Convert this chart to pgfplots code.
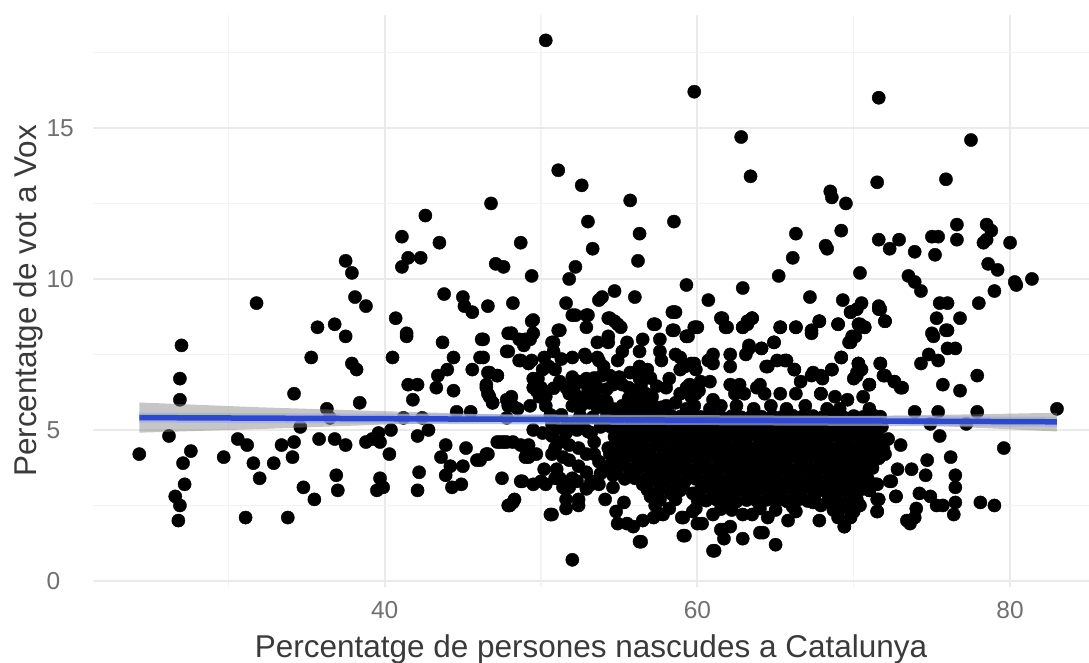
\documentclass[border=0pt]{standalone}
\usepackage{pgfplots}
\pgfplotsset{compat=1.18}
\usepackage{fontspec}
\setmainfont{Liberation Sans}
\definecolor{gmaj}{HTML}{EAEAEA}
\definecolor{gmin}{HTML}{F3F3F3}
\definecolor{ticktxt}{HTML}{707070}
\definecolor{labtxt}{HTML}{3A3A3A}
\definecolor{smooth}{HTML}{2F49C8}
\begin{document}
\begin{tikzpicture}[x=1pt,y=1pt]
\path[use as bounding box] (0,0) rectangle (1089,662);
\begin{axis}[
  at={(93pt,75pt)},anchor=south west,
  scale only axis,width=996pt,height=572pt,
  xmin=21.34,xmax=85.05,ymin=-0.2,ymax=18.74,
  axis line style={draw=none},
  major tick length=0pt,minor tick length=0pt,
  xtick={40,60,80},ytick={0,5,10,15},
  minor xtick={30,50,70},minor ytick={2.5,7.5,12.5,17.5},
  grid=both,
  major grid style={color=gmaj,line width=1.8pt},
  minor grid style={color=gmin,line width=1.3pt},
  /pgf/number format/assume math mode=true,
  tick label style={font=\fontsize{24.5}{26}\selectfont,text=ticktxt},
  xticklabel style={yshift=-11pt},
  yticklabel style={anchor=west,xshift=-50pt},
  xlabel={Percentatge de persones nascudes a Catalunya},
  ylabel={Percentatge de vot a Vox},
  label style={font=\fontsize{31.5}{33}\selectfont,text=labtxt},
  xlabel style={at={(axis description cs:0.5,0)},anchor=north,yshift=-44pt},
  ylabel style={at={(axis description cs:0,0.5)},anchor=south,yshift=46pt},
  clip mode=individual,
]
\addplot[only marks,mark=*,mark size=6.6pt,mark options={fill=black,draw=none},color=black] coordinates {
(31.8,9.2)(37.5,10.6)(37.9,10.2)(38.1,9.4)(38.8,9.1)(35.7,8.4)(36.8,8.5)(41.1,11.4)(41.5,10.7)(41.1,10.4)(42.3,10.7)(42.6,12.1)(43.5,11.2)(40.7,8.7)(41.4,8.2)(43.8,9.5)(45,9.4)(45.1,9.1)(45.6,8.9)(46.6,9.1)(46.8,12.5)(48.2,9.2)(48.7,11.2)(47.1,10.5)(47.6,10.4)(49.4,10.1)(49.4,8.6)(48.1,8.2)
(50.3,17.9)(59.8,16.2)(71.6,16)(62.8,14.7)(77.5,14.6)(51.1,13.6)(63.4,13.4)(52.6,13.1)(71.5,13.2)(75.9,13.3)(55.7,12.6)(68.5,12.9)(68.6,12.7)(69.5,12.5)(53,11.9)(58.5,11.9)(56.3,11.5)(66.3,11.5)(69.2,11.6)(53.3,11)(56.2,10.6)(68.2,11.1)(68.3,11)(71.6,11.3)(72.9,11.3)(72.3,11)(73.9,10.9)(75,11.4)(75.4,11.4)(76.6,11.8)(76.6,11.3)(75.2,10.8)(78.5,11.8)(78.8,11.6)(78.5,11.3)(78.3,11.2)(80,11.2)(52.2,10.4)(51.8,10)(66.1,10.7)(65.2,10.1)(70.4,10.2)(78.6,10.5)(79.2,10.3)(80.3,9.9)(80.4,9.8)(81.4,10)(73.5,10.1)(73.9,9.9)(74.3,9.6)(59.3,9.8)(62.9,9.7)(54.7,9.6)(53.9,9.4)(53.7,9.3)(56,9.4)(51.6,9.2)(60.7,9.3)(67.2,9.4)(69.3,9.3)(79,9.6)(78,9.2)(75.5,9.2)(76,9.2)(70.5,9.2)(70.2,9)(71.6,9.1)(71.7,9)(69.8,8.9)(58.6,8.9)(58.4,8.9)(52.2,8.8)(53,8.8)(54.4,8.7)(54.7,8.6)(55.1,8.4)(61.5,8.7)(61.9,8.4)(63.5,8.7)(63.2,8.6)(62.9,8.4)(75.3,8.7)(76.8,8.7)(67.8,8.6)(69,8.5)(72,8.6)(70.3,8.5)(70.7,8.4)(57.3,8.5)(65.3,8.4)(66.3,8.4)(60,8.4)(58.5,8.3)(51.2,8.3)(75.9,8.3)(67.3,8.3)(75,8.2)
(27,7.8)(26.9,6.7)(26.9,6)(24.3,4.2)(26.2,4.8)(27.6,4.3)(27.1,3.9)(27.2,3.2)(26.6,2.8)(26.9,2.5)(26.8,2)(29.7,4.1)(30.6,4.7)(31.2,4.5)(31.6,3.9)(32,3.4)(32.9,3.9)(33.4,4.5)(34.2,4.6)(34.1,4.1)(31.1,2.1)(33.8,2.1)(34.8,3.1)(35.5,2.7)(34.2,6.2)(35.3,7.4)(37.5,8.1)(37.9,7.2)(38.2,7)(36.3,5.7)(36.5,5.4)(34.6,5.1)(35.8,4.7)(36.8,4.7)(37.5,4.5)(36.9,3.5)(37,3)(38.4,5.9)(38.8,4.6)(39.2,4.7)(39.6,4.9)(39.7,4.6)(40.4,5)(40.3,4.2)(39.7,3.4)(39.9,3.1)(39.5,3)(40.5,7.4)(41.4,8.1)(41.5,6.5)(42.1,6.5)(41.8,6)(41.2,5.4)(42.4,5.4)(42.1,4.8)(42.8,5)(42.2,3.6)(42.1,3)(43.7,7.9)(44.4,7.4)(44,7)(43.4,6.8)(43.3,6.4)(44.4,6.3)(46.2,8)(46.1,7.4)(45.6,7)(46.6,6.9)(47.2,6.8)(46.5,6.4)(46.7,6.1)(46.9,5.9)(44.6,5.6)(45.5,5.6)(43.9,4.5)(45.2,4.4)(43.6,4.1)(44.2,3.8)(45,3.8)(43.9,3.5)(44.3,3.1)(44.9,3.2)(45.9,4)(46.6,4.2)(47.2,4.6)(48.2,4.6)(47.6,4.6)(47.5,3.4)(48.8,3.3)(48.2,2.6)(47.9,2.5)(47.8,7.6)(48.7,7.3)(47.8,6)(48.2,5.8)(47.8,5.4)(49,4.4)(49,4.1)(49.5,3.2)(49.5,5)(49.6,6.6)(49.5,6.4)(47.9,8.2)(49,8)
(52,0.7)(56.4,1.3)(59.2,1.5)(61.1,1)(65,1.2)(62.9,1.4)(64.2,1.6)(64,1.6)(61.7,1.4)(61.6,1.7)(50.7,2.2)(83,5.7)(79.6,4.4)(78.1,2.6)(79,2.5)(77.9,6.8)(75.7,6.5)(76.8,6.3)(77.9,5.6)(75.4,5.6)(73.9,5.6)(77.2,5.2)(74.9,5.2)(75.5,4.8)(76.2,4.1)(74.7,4)(74.6,3.5)(76.5,3.5)(76.5,3.1)(72.8,3.7)(73.7,3.7)(76.5,2.6)(76.4,2.2)(74.2,2.9)(74.9,2.8)(75.3,2.5)(75.7,2.5)(74,2.4)(73.9,2.1)(73.4,2)(73.6,1.9)(72.7,2.8)(71.5,2.7)(71.5,2.3)(67.8,2)(69.4,1.8)(72.4,3.3)(71.4,3.2)(71,3)(73,4.5)(72.2,4.7)(71.7,4.4)(72,4.2)(73.1,6.4)(72.6,6.6)(72,6.8)(71.7,7.2)(71,6.5)(74.3,7.2)(74.8,7.5)(75.4,7.3)(76,7.7)(76.5,7.7)(75.1,8.1)(76,8.3)(69.8,7.9)(70.1,8.1)(69.2,7.4)(70.3,7.2)(70.2,6.8)(64.9,7.9)(64.1,7.7)(63.3,7.7)(68.6,7)(67.4,6.9)(67.9,6.8)(65.7,7.3)(64.5,7.1)(66.2,7)(67.9,6.2)(59.4,8.1)(50.8,7.9)
(49.5,8.64)(48.1,8.2)(49.5,8.2)(49.3,8)(48.9,7.8)(48.6,8)(51.1,8.3)(50.7,7.9)(47.9,7.6)(46.3,8)(46.3,7.4)(48.6,7.3)(49.2,7.2)(50.2,7.4)(52,8.8)(52.9,8.8)(52.9,8.4)(54.3,8.7)(54.9,8.5)(54.3,8.1)(53.6,7.9)(54.3,7.9)(55.5,7.9)(56.5,8)(56.3,7.6)(55.2,7.6)(54.9,7.3)(57.2,8.5)(58.5,8.9)(58.4,8.3)(59.3,8.1)(59.8,8.4)(57.6,8)(57.6,7.6)(58.6,7.5)(57.7,7.3)(52,7.4)(52.9,7.4)(53.7,7.3)(49.8,6.7)(49.5,6.7)(50.9,7)(50.1,7)(46.7,6.9)(47.2,6.8)(46.5,6.5)(46.6,6.2)(46.9,5.9)(48.1,6.1)(47.9,5.8)(48.5,5.7)(49.7,6.3)(50.3,6.1)(49.3,5.8)(50.3,5.8)(51.2,6.6)(51.6,6.4)(51.8,6.2)(52.5,6.6)(53,6.4)(53.4,6.2)(53.1,5.9)(53.7,6)(54,7.1)(53.9,6.8)(54.6,6.5)(55.2,6.5)(55.7,6.9)(56.3,7.1)(56.8,7)(56.1,6.3)(56.7,6.2)(57.1,6.1)(58.2,6.7)(58.9,7)(59.6,7.2)(59.3,6.4)(58.6,5.9)(58,5.8)(59.3,5.7)(54.6,5.7)(55.7,5.7)(56.7,5.7)(51.3,5.5)
(61.6,8.7)(61.8,8.4)(59.9,8.4)(59.3,8.1)(63.5,8.7)(63.2,8.5)(62.9,8.4)(65.3,8.4)(66.3,8.4)(67.3,8.2)(67.8,8.6)(69,8.5)(69.8,8.9)(70.4,8.5)(70.7,8.4)(72,8.6)(71.6,9)(69.9,8.1)(69.7,7.9)(64.9,7.9)(64.1,7.7)(63.3,7.8)(63.1,7.5)(62.1,7.5)(62.1,7.1)(61,7.5)(60.7,7.3)(59.8,7.2)(61,7.2)(69.2,7.4)(70.3,7.2)(70.5,7)(70,6.7)(70.2,6.9)(71.7,7.2)(71.9,6.8)(72.6,6.6)(73,6.4)(71,6.5)(64.4,7.1)(65.1,7.3)(65.6,7.3)(66.2,7)(66.6,6.6)(67.3,6.8)(68,6.7)(68.6,7)(64,6.5)(63.8,6.4)(64.3,6.2)(62.1,6.5)(62.7,6.5)(62.4,6.2)(63,6.2)(65.3,6.2)(66.3,6.2)(67.9,6.2)(68.8,6.1)(69.6,6)(70.6,6.1)(59.5,6.5)(60.2,6.6)(60.8,6.6)(60.1,6.3)(61,6)(61.5,5.8)(60.8,5.7)(59.2,7.1)(59.9,7)(58.9,7.4)(62.5,5.8)(63.6,5.7)(64.7,5.8)(65.7,5.7)(66.9,5.8)(68.3,5.7)(69.1,5.7)(71,5.7)
(47.4,4.6)(48.7,4.5)(47.8,4.6)(49.2,4.5)(49.2,4.1)(49.7,4.2)(46.5,4.2)(46.1,4)(48.7,3.3)(50.3,3.2)(50,3.3)(48.3,2.7)(48,2.5)(50.6,2.2)(50.2,3.7)(51,3.7)(50.7,4.2)(50.9,4.4)(51.2,4.6)(51.8,4.5)(50.1,4.9)(50.7,4.8)(52.3,5)(51.8,4)(52.4,3.8)(52.9,3.6)(52.9,4.2)(53.4,4.2)(52,3.4)(51.4,3.1)(53.2,3.2)(53.7,3.2)(51.6,2.7)(52.4,2.7)(51.6,2.4)(52.4,2.5)(54.1,2.7)(54.4,4.2)(54.3,3.8)(54.6,3.5)(54.6,3.1)(53.4,4.6)(53.2,4.9)(54.3,4.4)(55.3,2.6)(54.8,2.3)(54.9,1.9)(55.5,1.9)(55.9,1.8)(56.5,2)(56.3,1.3)(59.1,1.5)(59,2.1)(57.2,2.1)(57.8,2.2)(58.2,2.4)(59.7,2.3)(60,1.9)(57.3,2.5)(57,2.8)(58.3,2.9)(58.6,2.7)(58.9,3)(59.7,2.9)(60,2.7)
(61,1)(61.5,1.7)(60.3,1.9)(64.5,2.1)(65.8,2)(66.3,2.3)(69.4,1.8)(69,2.1)(69.8,2.1)(71.5,2.3)(71.6,2.7)(71,3)(71.5,3.2)(72.3,3.3)(72.7,2.8)(62.1,1.8)(62.9,2.2)(63.5,2.2)(61,2.2)(59.1,2.1)(59.9,2.4)(70.4,2.5)(70,2.3)(67.9,2.5)(67.4,2.6)
(52.5,5.46)(53.3,5.42)(54.2,5.47)(55,5.44)(55.7,5.48)(56.3,5.43)(57,5.46)(57.6,5.42)(58.3,5.48)(58.9,5.44)(59.6,5.46)(60.2,5.43)(60.9,5.47)(61.5,5.44)(62.2,5.46)(62.8,5.42)(63.5,5.48)(64.1,5.44)(64.8,5.46)(65.4,5.43)(66.1,5.47)(66.7,5.44)(67.4,5.46)(68,5.42)(68.7,5.48)(69.3,5.44)(70,5.46)(70.6,5.43)(71.3,5.47)(71.7,5.44)
(54.4,5.12)(55,5.08)(55.7,5.11)(56.3,5.14)(57,5.09)(57.6,5.12)(58.3,5.08)(58.9,5.13)(59.6,5.1)(60.2,5.07)(60.9,5.12)(61.5,5.09)(62.2,5.13)(62.8,5.1)(63.5,5.08)(64.1,5.12)(64.8,5.09)(65.4,5.13)(66.1,5.1)(66.7,5.07)(67.4,5.12)(68,5.09)(68.7,5.13)(69.3,5.1)(70,5.08)(70.6,5.12)(71.3,5.09)(71.8,5.11)
(54.7,4.78)(55.35,4.75)(56,4.8)(56.65,4.76)(57.3,4.74)(57.95,4.79)(58.6,4.76)(59.25,4.73)(59.9,4.78)(60.55,4.75)(61.2,4.79)(61.85,4.74)(62.5,4.77)(63.15,4.75)(63.8,4.8)(64.45,4.76)(65.1,4.73)(65.75,4.78)(66.4,4.75)(67.05,4.79)(67.7,4.76)(68.35,4.74)(69,4.78)(69.65,4.75)(70.3,4.79)(70.95,4.76)(71.6,4.74)
(54.6,4.43)(55,4.4)(55.7,4.45)(56.3,4.41)(57,4.38)(57.6,4.44)(58.3,4.41)(58.9,4.37)(59.6,4.42)(60.2,4.4)(60.9,4.45)(61.5,4.41)(62.2,4.38)(62.8,4.43)(63.5,4.4)(64.1,4.44)(64.8,4.41)(65.4,4.38)(66.1,4.43)(66.7,4.4)(67.4,4.44)(68,4.41)(68.7,4.38)(69.3,4.43)(70,4.4)(70.6,4.44)(71.3,4.41)(71.9,4.38)
(54.7,4.08)(55.35,4.05)(56,4.1)(56.65,4.06)(57.3,4.03)(57.95,4.09)(58.6,4.06)(59.25,4.03)(59.9,4.08)(60.55,4.05)(61.2,4.1)(61.85,4.06)(62.5,4.03)(63.15,4.08)(63.8,4.05)(64.45,4.09)(65.1,4.06)(65.75,4.03)(66.4,4.08)(67.05,4.05)(67.7,4.09)(68.35,4.06)(69,4.03)(69.65,4.08)(70.3,4.05)(70.95,4.09)(71.6,4.06)
(54.9,3.72)(55.7,3.7)(56.3,3.75)(57,3.71)(57.6,3.68)(58.3,3.74)(58.9,3.71)(59.6,3.68)(60.2,3.73)(60.9,3.7)(61.5,3.75)(62.2,3.71)(62.8,3.68)(63.5,3.73)(64.1,3.7)(64.8,3.74)(65.4,3.71)(66.1,3.68)(66.7,3.73)(67.4,3.7)(68,3.74)(68.7,3.71)(69.3,3.68)(70,3.73)(70.6,3.7)(71.2,3.74)
(55.35,3.38)(56,3.4)(56.65,3.36)(57.3,3.34)(57.95,3.39)(58.6,3.36)(59.25,3.33)(59.9,3.38)(60.55,3.35)(61.2,3.4)(61.85,3.36)(62.5,3.33)(63.15,3.38)(63.8,3.35)(64.45,3.39)(65.1,3.36)(65.75,3.33)(66.4,3.38)(67.05,3.35)(67.7,3.39)(68.35,3.36)(69,3.33)(69.65,3.38)(70.3,3.35)(70.9,3.38)
(56.8,3.02)(57.6,3.04)(58.3,3)(60.2,3.02)(60.9,3.05)(61.5,3.01)(62.2,2.98)(62.8,3.03)(63.5,3)(64.1,3.04)(64.8,3.01)(65.4,2.98)(66.1,3.03)(66.7,3)(67.4,3.04)(68,3.01)(68.7,2.98)(69.3,3.03)(70,3)(70.5,3.04)
(57.6,2.68)(60.55,2.66)(61.2,2.7)(61.85,2.66)(62.5,2.63)(63.15,2.68)(63.8,2.65)(64.45,2.69)(65.1,2.66)(65.75,2.63)(66.4,2.68)(67.05,2.65)(68.35,2.66)(69,2.63)(69.65,2.68)(70.2,2.7)
(61.5,2.38)(62.2,2.35)(64,2.4)(65,2.35)(66.1,2.45)(68.7,2.35)(69.3,2.42)
(55.3,4.92)(56.6,4.95)(57.9,4.93)(59.2,4.9)(60.5,4.94)(61.8,4.91)(63.1,4.95)(64.4,4.92)(65.7,4.9)(67,4.94)(68.3,4.91)(69.6,4.95)(70.9,4.92)
(55,4.6)(56.3,4.58)(57.6,4.61)(58.9,4.56)(60.2,4.6)(61.5,4.57)(62.8,4.61)(64.1,4.58)(65.4,4.56)(66.7,4.6)(68,4.57)(69.3,4.61)(70.6,4.58)(71.8,4.56)
(55.3,4.23)(56.6,4.25)(57.9,4.22)(59.2,4.2)(60.5,4.24)(61.8,4.21)(63.1,4.25)(64.4,4.22)(65.7,4.2)(67,4.24)(68.3,4.21)(69.6,4.25)(70.9,4.22)
(55,3.88)(56.3,3.9)(57.6,3.86)(58.9,3.88)(60.2,3.91)(61.5,3.87)(62.8,3.9)(64.1,3.88)(65.4,3.86)(66.7,3.9)(68,3.87)(69.3,3.91)(70.6,3.88)
(55.7,3.55)(57,3.53)(58.3,3.56)(59.6,3.52)(60.9,3.55)(62.2,3.53)(63.5,3.56)(64.8,3.54)(66.1,3.52)(67.4,3.56)(68.7,3.53)(70,3.55)
(56.5,3.2)(57.8,3.22)(59.1,3.18)(60.4,3.2)(61.7,3.23)(63,3.19)(64.3,3.21)(65.6,3.18)(66.9,3.22)(68.2,3.19)(69.5,3.21)(70.7,3.2)
(61,2.85)(62.3,2.83)(63.6,2.86)(64.9,2.82)(66.2,2.85)(67.5,2.83)(68.8,2.86)(70.1,2.84)
(52,6.75)(52.9,6.7)(53.4,6.72)(54.4,6.8)(55,6.75)(56.3,6.7)(57,6.72)(50,6.4)(50.8,6.38)(52.1,6.42)(52.9,6.1)(53.6,6.4)(54.2,6.35)(55.6,6.4)(56.4,6.5)(57.4,6.45)(58,6.4)(59.9,6.2)(49.9,6.1)(52.4,6.1)(54.2,5.95)(55.6,6.05)(56,6)(56.6,5.9)(58.9,6.2)(59.6,6.1)(52,5.8)(52.5,5.75)(53.6,5.75)(54.2,5.7)(55.2,5.8)(56.2,5.8)(57.2,5.8)(57.7,5.75)(59.8,5.8)(50.5,7.1)(49.4,7.3)(51,5.05)(51.6,4.9)(50.7,5.2)(51.7,5.2)(52.7,5.15)(53.8,5.1)(53,4.95)(52.4,4.4)(51.4,4.1)(50.9,3.4)(51.2,3.4)(51.8,3.1)(52.3,3.3)(52.8,7.5)(53.6,7.4)(50.8,7.6)(51.3,7.35)(50.6,5.5)(52.4,5.35)(53.2,3.3)(53.8,3.55)(53.7,3.95)(52.9,3.05)
};
\addplot[draw=none,fill=gray,fill opacity=0.45] coordinates {(24.3,5.91)(32,5.75)(40,5.62)(48,5.5)(55,5.46)(62,5.43)(70,5.46)(78,5.52)(83,5.57)(83,4.95)(78,5.07)(70,5.26)(62,5.33)(55,5.32)(48,5.28)(40,5.18)(32,5.03)(24.3,4.91)} --cycle;
\addplot[color=smooth!45!white,line width=10pt,opacity=0.7] coordinates {(24.3,5.41)(83,5.27)};
\addplot[color=smooth,line width=5.5pt] coordinates {(24.3,5.41)(83,5.27)};
\end{axis}
\end{tikzpicture}
\end{document}
